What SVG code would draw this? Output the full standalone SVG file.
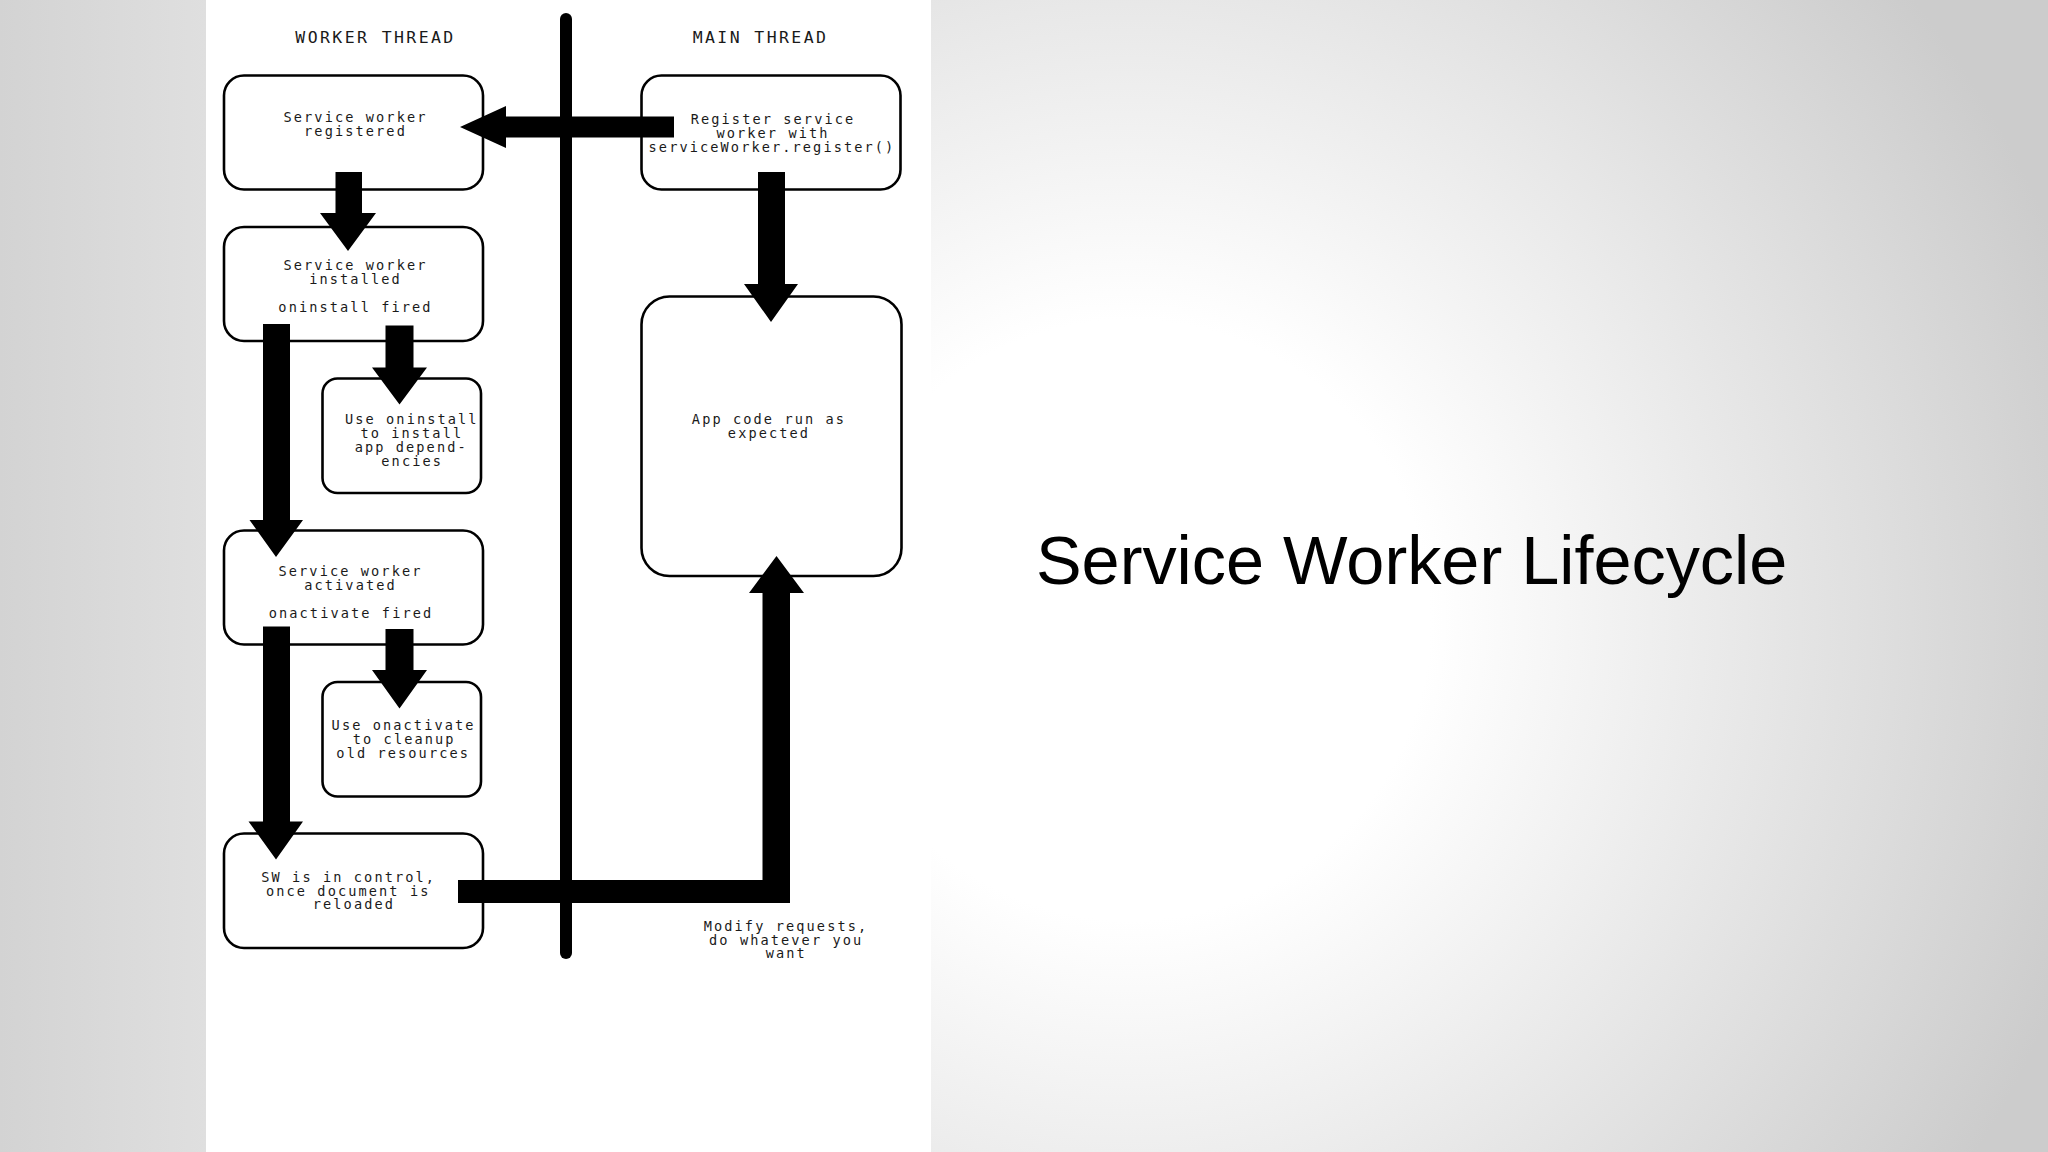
<svg xmlns="http://www.w3.org/2000/svg" width="2048" height="1152" viewBox="0 0 2048 1152">
<defs>
<linearGradient id="leftbg" x1="0" y1="0" x2="1" y2="0">
<stop offset="0" stop-color="#d3d3d3"/>
<stop offset="1" stop-color="#dfdfdf"/>
</linearGradient>
<radialGradient id="rightbg" gradientUnits="userSpaceOnUse" cx="1130" cy="620" r="1000">
<stop offset="0" stop-color="#ffffff"/>
<stop offset="0.3" stop-color="#ffffff"/>
<stop offset="1" stop-color="#cccccc"/>
</radialGradient>
<style>
.box{fill:#ffffff;stroke:#000000;stroke-width:2.6}
.t{font-family:"DejaVu Sans Mono","Liberation Mono",monospace;font-size:13.6px;letter-spacing:2.1px;fill:#1a1a1a;text-anchor:middle}
.h{font-family:"DejaVu Sans Mono","Liberation Mono",monospace;font-size:16.5px;letter-spacing:2.4px;fill:#1a1a1a;text-anchor:middle}
.arrow{fill:#000000}
.title{font-family:"Liberation Sans",Arial,sans-serif;font-size:68.4px;fill:#000000}
</style>
</defs>
<rect x="0" y="0" width="2048" height="1152" fill="url(#rightbg)"/>
<rect x="0" y="0" width="206" height="1152" fill="url(#leftbg)"/>
<rect x="206" y="0" width="725" height="1152" fill="#ffffff"/>

<text class="h" x="375.5" y="42.5">WORKER THREAD</text>
<text class="h" x="760.5" y="42.5">MAIN THREAD</text>

<line x1="566" y1="19" x2="566" y2="953" stroke="#000000" stroke-width="12" stroke-linecap="round"/>

<g id="n-registered">
<rect class="box" x="224" y="75.5" width="259" height="114" rx="20"/>
<text class="t" x="355.5" y="121.7">Service worker</text>
<text class="t" x="355.5" y="135.7">registered</text>
</g>
<g id="n-register">
<rect class="box" x="641.5" y="75.5" width="259" height="114" rx="20"/>
<text class="t" x="773" y="124">Register service</text>
<text class="t" x="773" y="137.7">worker with</text>
<text class="t" x="772" y="151.7">serviceWorker.register()</text>
</g>
<g id="n-installed">
<rect class="box" x="224" y="227" width="259" height="114" rx="20"/>
<text class="t" x="355.5" y="270">Service worker</text>
<text class="t" x="355.5" y="284">installed</text>
<text class="t" x="355.5" y="312.3">oninstall fired</text>
</g>
<g id="n-oninstall">
<rect class="box" x="322.5" y="378.5" width="158.5" height="114.5" rx="15"/>
<text class="t" x="411.8" y="424">Use oninstall</text>
<text class="t" x="411.8" y="438.3">to install</text>
<text class="t" x="411.2" y="452.3">app depend-</text>
<text class="t" x="412.2" y="466">encies</text>
</g>
<g id="n-activated">
<rect class="box" x="224" y="530.5" width="259" height="114" rx="20"/>
<text class="t" x="350.5" y="575.7">Service worker</text>
<text class="t" x="350.5" y="590">activated</text>
<text class="t" x="351" y="617.7">onactivate fired</text>
</g>
<g id="n-onactivate">
<rect class="box" x="322.5" y="682" width="158.5" height="114.5" rx="15"/>
<text class="t" x="403.6" y="730">Use onactivate</text>
<text class="t" x="404.2" y="744">to cleanup</text>
<text class="t" x="403.2" y="758.3">old resources</text>
</g>
<g id="n-control">
<rect class="box" x="224" y="833.5" width="259" height="114.5" rx="20"/>
<text class="t" x="348.7" y="881.7">SW is in control,</text>
<text class="t" x="348.2" y="895.7">once document is</text>
<text class="t" x="353.9" y="909.3">reloaded</text>
</g>
<g id="n-appcode">
<rect class="box" x="641.5" y="296.5" width="260" height="279.5" rx="28"/>
<text class="t" x="769" y="424">App code run as</text>
<text class="t" x="769" y="437.7">expected</text>
</g>

<g id="connectors">
<path class="arrow" d="M674,116.5 H506 V106 L460,127 L506,148 V137.5 H674 Z"/>
<path class="arrow" d="M335.5,172 V213 H320 L348,251 L376,213 H362 V172 Z"/>
<path class="arrow" d="M263,324 V520 H249.5 L276,557 L303,520 H290 V324 Z"/>
<path class="arrow" d="M385.5,325.5 V367.5 H372 L399.5,404.5 L427,367.5 H413.5 V325.5 Z"/>
<path class="arrow" d="M263,626.5 V821.5 H248.5 L276,859.5 L303,821.5 H290 V626.5 Z"/>
<path class="arrow" d="M385.5,629 V670 H372 L399.5,708.5 L427,670 H413.5 V629 Z"/>
<path class="arrow" d="M758,172 V284 H744 L771,322 L798,284 H785 V172 Z"/>
<path class="arrow" d="M458,880 H762.5 V593 H749 L776.5,556 L804,593 H790 V903 H458 Z"/>
</g>

<g id="label-modify">
<text class="t" x="786" y="930.7">Modify requests,</text>
<text class="t" x="786.2" y="945">do whatever you</text>
<text class="t" x="786.2" y="958.3">want</text>
</g>

<text class="title" x="1036" y="584">Service Worker Lifecycle</text>
</svg>
